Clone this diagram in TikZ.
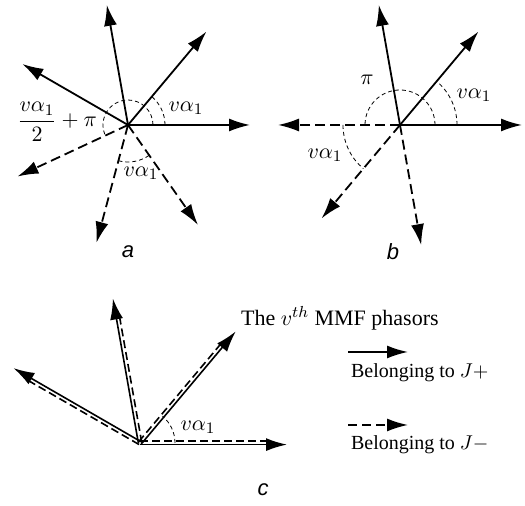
\documentclass[tikz,border=0pt]{standalone}
\usepackage[no-math]{fontspec}
\setmainfont{Liberation Serif}
\newfontfamily\tagfont{Liberation Sans}
\usetikzlibrary{arrows.meta}
\begin{document}
\begin{tikzpicture}[x=0.5pt,y=0.5pt,
  phasor/.style={line width=0.9pt,-{Latex[length=10.5pt,width=6.5pt]}},
  negphasor/.style={phasor,dash pattern=on 5pt off 2.5pt},
  twinline/.style={line width=0.8pt},
  twindash/.style={line width=0.8pt,dash pattern=on 4pt off 2pt},
  angarc/.style={line width=0.4pt,dash pattern=on 2pt off 1.5pt},
  lbl/.style={font=\fontsize{11}{13}\selectfont},
  tag/.style={font=\fontsize{11}{13}\selectfont\tagfont\itshape}]
  \useasboundingbox (0,0) rectangle (525,506);
  % Panel a
  \coordinate (oa) at (128,381);
  \foreach \t in {0,50,100,150}
    \draw[phasor] (oa) -- ++(\t:122);
  \foreach \t in {205,255,305}
    \draw[negphasor] (oa) -- ++(\t:122);
  \draw[angarc] (oa) ++(0:25) arc[start angle=0,end angle=205,radius=25];
  \draw[angarc] (oa) ++(0:37) arc[start angle=0,end angle=50,radius=37];
  \draw[angarc] (oa) ++(255:37) arc[start angle=255,end angle=305,radius=37];
  \node[lbl] (aup) at (186,398) {$v\alpha_1$};
  \node[lbl] (adown) at (141,333) {$v\alpha_1$};
  \node[lbl] (ahalf) at (57,384) {$\displaystyle\frac{v\alpha_1}{2}+\pi$};
  \node[tag] (atag) at (128,254) {a};
  % Panel b
  \coordinate (ob) at (400,381);
  \foreach \t in {0,50,100}
    \draw[phasor] (ob) -- ++(\t:122);
  \foreach \t in {180,230,280}
    \draw[negphasor] (ob) -- ++(\t:122);
  \draw[angarc] (ob) ++(0:35) arc[start angle=0,end angle=180,radius=35];
  \draw[angarc] (ob) ++(0:57) arc[start angle=0,end angle=50,radius=57];
  \draw[angarc] (ob) ++(180:57) arc[start angle=180,end angle=230,radius=57];
  \node[lbl] (bpi) at (367,426) {$\pi$};
  \node[lbl] (bup) at (474,411) {$v\alpha_1$};
  \node[lbl] (bdown) at (325,351) {$v\alpha_1$};
  \node[tag] (btag) at (393,254) {b};
  % Panel c - solid and dashed phasors on top of each other
  \coordinate (oc) at (140,63);
  \foreach \t/\s in {0/-1,50/-1,100/1,150/-1} {
    \draw[twinline,-{Latex[length=10.5pt,width=6.5pt]}] ([shift={(\t+90*\s:1.6)}]oc) -- ++(\t:147);
    \draw[twindash] ([shift={(\t-90*\s:1.8)}]oc) -- ++(\t:130);
  }
  \draw[angarc] (oc) ++(0:35) arc[start angle=0,end angle=50,radius=35];
  \node[lbl] (calpha) at (198,79) {$v\alpha_1$};
  \node[anchor=west,lbl] (ctitle) at (234,188) {The $v^{th}$ MMF phasors};
  % Legend
  \coordinate (lp1) at (348,154);
  \coordinate (lp2) at (408,154);
  \coordinate (ln1) at (348,81);
  \coordinate (ln2) at (408,81);
  \draw[phasor] (lp1) -- (lp2);
  \draw[negphasor,dash pattern=on 4.5pt off 2.5pt] (ln1) -- (ln2);
  \node[anchor=west] (lplus) at (344,133) {Belonging to $J+$};
  \node[anchor=west] (lminus) at (344,61) {Belonging to $J-$};
  \node[tag] (ctag) at (263,16) {c};
\end{tikzpicture}
\end{document}
